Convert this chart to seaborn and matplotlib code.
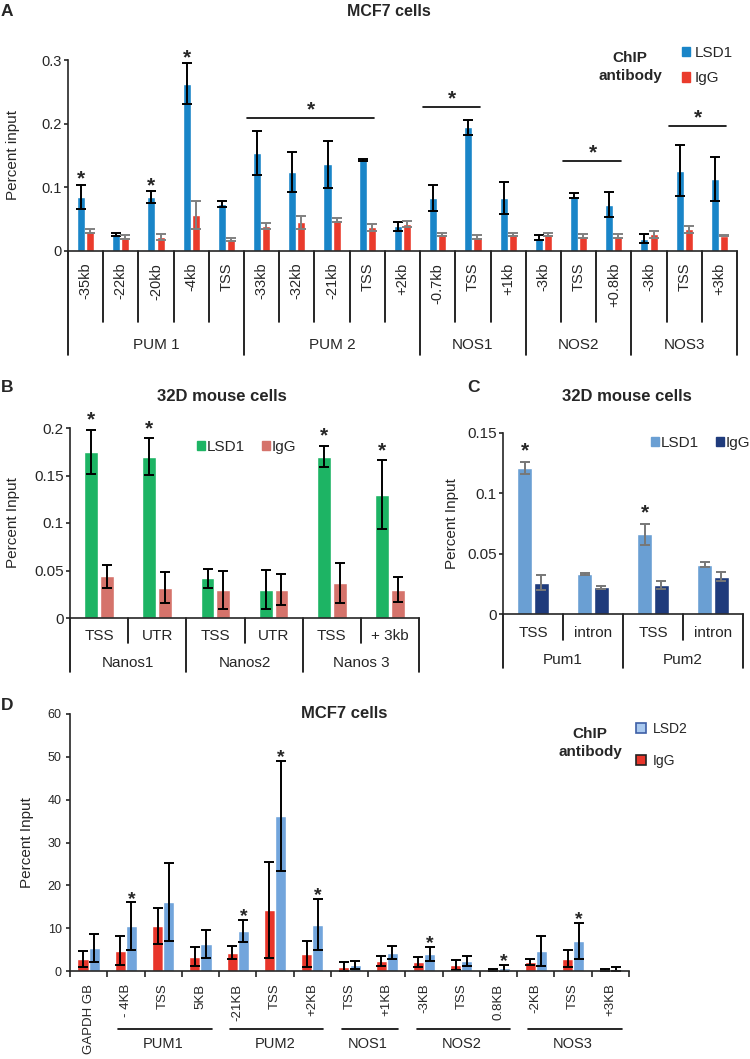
import numpy as np
import pandas as pd
import matplotlib
matplotlib.use("Agg")
import matplotlib.pyplot as plt
import matplotlib.patches as mpatches
from matplotlib.ticker import FuncFormatter
import seaborn as sns

sns.set_theme(style="ticks")
plt.rcParams['font.family'] = ['Liberation Sans', 'DejaVu Sans']
plt.rcParams['axes.linewidth'] = 1.2

# ---------------- data ----------------
# panel A, MCF7, LSD1 vs IgG
a_sites = ["-35kb", "-22kb", "-20kb", "-4kb", "TSS",
           "-33kb", "-32kb", "-21kb", "TSS", "+2kb",
           "-0.7kb", "TSS", "+1kb",
           "-3kb", "TSS", "+0.8kb",
           "-3kb", "TSS", "+3kb"]
a_genes = ["PUM 1", "PUM 2", "NOS1", "NOS2", "NOS3"]
a_gene_sizes = [5, 5, 3, 3, 3]
a_lsd1 = [0.085, 0.026, 0.085, 0.263, 0.074, 0.154, 0.124, 0.136, 0.143, 0.039,
          0.083, 0.194, 0.083, 0.021, 0.087, 0.073, 0.019, 0.126, 0.113]
a_lsd1_err = [0.019, 0.003, 0.009, 0.032, 0.005, 0.035, 0.031, 0.037, 0.002, 0.007,
              0.020, 0.012, 0.025, 0.004, 0.004, 0.019, 0.007, 0.040, 0.034]
a_igg = [0.031, 0.022, 0.022, 0.057, 0.018, 0.039, 0.045, 0.049, 0.037, 0.042,
         0.026, 0.022, 0.026, 0.026, 0.023, 0.023, 0.026, 0.034, 0.024]
a_igg_err = [0.003, 0.003, 0.005, 0.022, 0.003, 0.005, 0.010, 0.003, 0.006, 0.005,
             0.003, 0.003, 0.003, 0.003, 0.003, 0.003, 0.006, 0.005, 0.001]
a_stars = [0, 2, 3]
# (first site, last site, bracket height)
a_brackets = [(5, 8, 0.209), (10, 11, 0.226), (14, 15, 0.141), (17, 18, 0.196)]

# panel B, 32D mouse cells
b_sites = ["TSS", "UTR", "TSS", "UTR", "TSS", "+ 3kb"]
b_genes = ["Nanos1", "Nanos2", "Nanos 3"]
b_gene_sizes = [2, 2, 2]
b_lsd1 = [0.175, 0.170, 0.042, 0.030, 0.170, 0.130]
b_lsd1_err = [0.023, 0.019, 0.010, 0.021, 0.011, 0.036]
b_igg = [0.044, 0.032, 0.030, 0.030, 0.037, 0.030]
b_igg_err = [0.012, 0.016, 0.020, 0.016, 0.021, 0.013]
b_stars = [0, 1, 4, 5]

# panel C, 32D mouse cells
c_sites = ["TSS", "intron", "TSS", "intron"]
c_genes = ["Pum1", "Pum2"]
c_gene_sizes = [2, 2]
c_lsd1 = [0.121, 0.033, 0.066, 0.041]
c_lsd1_err = [0.005, 0.001, 0.009, 0.002]
c_igg = [0.026, 0.022, 0.024, 0.031]
c_igg_err = [0.006, 0.001, 0.003, 0.004]
c_stars = [0, 2]

# panel D, MCF7, LSD2 vs IgG
d_sites = ["GAPDH GB", "- 4KB", "TSS", "5KB", "-21KB", "TSS", "+2KB", "TSS", "+1KB",
           "-3KB", "TSS", "0.8KB", "-2KB", "TSS", "+3KB"]
d_genes = ["", "PUM1", "PUM2", "NOS1", "NOS2", "NOS3"]
d_gene_sizes = [1, 3, 3, 2, 3, 3]
d_igg = [2.8, 4.7, 10.4, 3.3, 4.3, 14.3, 4.0, 1.0, 2.4, 2.1, 1.4, 0.3, 2.1, 2.9, 0.25]
d_igg_err = [1.95, 3.4, 4.2, 2.2, 1.6, 11.2, 3.1, 1.0, 1.2, 1.2, 1.1, 0.2, 0.8, 1.9, 0.2]
d_lsd2 = [5.4, 10.4, 16.1, 6.3, 9.3, 36.2, 10.8, 1.4, 4.3, 4.0, 2.4, 0.6, 4.7, 7.0, 0.4]
d_lsd2_err = [3.3, 5.6, 9.2, 3.3, 2.6, 12.9, 6.0, 1.0, 1.5, 1.6, 1.2, 0.8, 3.5, 4.2, 0.5]
d_stars = [1, 4, 5, 6, 9, 11, 13]

W, H = 750, 1059
fig = plt.figure(figsize=(W / 100, H / 100), dpi=100)


def px_axes(x0, y0, x1, y1):
    # pixel box (left, top, right, bottom) -> axes
    return fig.add_axes([x0 / W, 1 - y1 / H, (x1 - x0) / W, (y1 - y0) / H])


def draw_bars(ax, vals, errs, names, colors, ecolors, width, gap):
    n = len(vals[0])
    df = pd.DataFrame({
        "pos": np.tile(np.arange(n), len(names)),
        "value": np.concatenate(vals),
        "antibody": np.repeat(names, n),
    })
    sns.barplot(data=df, x="pos", y="value", hue="antibody", hue_order=names,
                palette=colors, saturation=1, width=width, gap=gap,
                errorbar=None, legend=False, ax=ax)
    bars = list(ax.containers[:len(names)])
    tops = []
    for cont, err, ec in zip(bars, errs, ecolors):
        xs = np.array([b.get_x() + b.get_width() / 2 for b in cont])
        hs = np.array([b.get_height() for b in cont])
        ax.errorbar(xs, hs, yerr=err, fmt="none", ecolor=ec, elinewidth=1.4,
                    capsize=3.5, capthick=1.4)
        tops.append((xs, hs + np.array(err)))
    ax.set_xlim(-0.5, n - 0.5)
    ax.set_xlabel("")
    sns.despine(ax=ax)
    ax.yaxis.set_major_formatter(FuncFormatter(lambda v, p: "%g" % round(v, 3)))
    return tops


def stars(ax, xs, ys, idx, off, fs=15):
    for i in idx:
        ax.annotate("*", (xs[i], ys[i]), xytext=(0, off), textcoords="offset points",
                    ha="center", va="baseline", fontsize=fs, fontweight="bold",
                    annotation_clip=False)


def cat_frame(ax, sizes, names, sub_px, grp_px, name_px, fs):
    # separators under the category axis + gene names
    h = ax.get_position().height * H
    xt = ax.get_xaxis_transform()
    n = sum(sizes)
    edges = np.cumsum([0] + sizes) - 0.5
    for b in np.arange(n + 1) - 0.5:
        ln = grp_px if np.isclose(edges, b).any() else sub_px
        ax.plot([b, b], [0, -ln / h], transform=xt, clip_on=False, color="black", lw=1.2)
    for name, e0, e1 in zip(names, edges[:-1], edges[1:]):
        ax.text((e0 + e1) / 2, -name_px / h, name, transform=xt, ha="center",
                va="center", fontsize=fs)


def ylabel_at(ax, text, x_px, fs=11):
    pos = ax.get_position()
    ax.set_ylabel(text, fontsize=fs)
    ax.yaxis.set_label_coords((x_px / W - pos.x0) / pos.width, 0.5)
    ax.yaxis.label.set_va("center")


# ---------------- panel A ----------------
axA = px_axes(68, 60, 737, 251)
topsA = draw_bars(axA, [a_lsd1, a_igg], [a_lsd1_err, a_igg_err], ["LSD1", "IgG"],
                  ["#1985c8", "#ea3b2c"], ["black", "#808080"], 0.52, 0.12)
axA.set_ylim(0, 0.3)
axA.set_yticks([0, 0.1, 0.2, 0.3])
axA.tick_params(axis="y", length=3, width=1.2, pad=1.5, labelsize=10.5)
axA.set_xticks(range(len(a_sites)))
axA.set_xticklabels(a_sites, rotation=90, fontsize=10.5)
axA.tick_params(axis="x", length=0, pad=8.5)
cat_frame(axA, a_gene_sizes, a_genes, 71, 104, 94, 11)
ylabel_at(axA, "Percent input", 13)
stars(axA, topsA[0][0], topsA[0][1], a_stars, 0)
for i0, i1, y in a_brackets:
    axA.plot([i0 - 0.43, i1 + 0.2], [y, y], color="black", lw=1.2, clip_on=False)
    axA.annotate("*", ((i0 + i1) / 2 - 0.1, y), xytext=(0, 2), textcoords="offset points",
                 ha="center", va="baseline", fontsize=15, fontweight="bold",
                 annotation_clip=False)
fig.text(389 / W, 1 - 12 / H, "MCF7 cells", ha="center", va="center",
         fontsize=11.5, fontweight="bold")
fig.text(630 / W, 1 - 67 / H, "ChIP\nantibody", ha="center", va="center",
         fontsize=11, fontweight="bold", linespacing=1.3)
fig.legend([mpatches.Patch(color=c) for c in ["#1985c8", "#ea3b2c"]], ["LSD1", "IgG"],
           loc="upper left", bbox_to_anchor=(682 / W, 1 - 46 / H), frameon=False,
           handlelength=0.55, handleheight=0.55, handletextpad=0.3,
           labelspacing=0.75, fontsize=11, borderaxespad=0, borderpad=0)

# ---------------- panel B ----------------
axB = px_axes(70, 428, 419, 618)
topsB = draw_bars(axB, [b_lsd1, b_igg], [b_lsd1_err, b_igg_err], ["LSD1", "IgG"],
                  ["#1db464", "#d5736b"], ["black", "black"], 0.54, 0.12)
axB.set_ylim(0, 0.2)
axB.set_yticks([0, 0.05, 0.1, 0.15, 0.2])
axB.tick_params(axis="y", length=3, width=1.2, pad=1.5, labelsize=11)
axB.set_xticks(range(len(b_sites)))
axB.set_xticklabels(b_sites, fontsize=11)
axB.tick_params(axis="x", length=0, pad=8)
cat_frame(axB, b_gene_sizes, b_genes, 25, 54, 45, 11)
ylabel_at(axB, "Percent Input", 13)
stars(axB, topsB[0][0], topsB[0][1], b_stars, 3)
axB.legend([mpatches.Patch(color=c) for c in ["#1db464", "#d5736b"]], ["LSD1", "IgG"],
           loc="center left", bbox_to_anchor=(197 / W, 1 - 447 / H),
           bbox_transform=fig.transFigure, ncol=2, frameon=False,
           handlelength=0.5, handleheight=0.5, handletextpad=0.15,
           columnspacing=1.1, fontsize=11, borderaxespad=0, borderpad=0)
fig.text(222 / W, 1 - 397 / H, "32D mouse cells", ha="center", va="center",
         fontsize=12, fontweight="bold")

# ---------------- panel C ----------------
axC = px_axes(503, 433, 743, 614)
topsC = draw_bars(axC, [c_lsd1, c_igg], [c_lsd1_err, c_igg_err], ["LSD1", "IgG"],
                  ["#6a9fd3", "#1f3b7c"], ["#777777", "#777777"], 0.56, 0.1)
axC.set_ylim(0, 0.15)
axC.set_yticks([0, 0.05, 0.1, 0.15])
axC.tick_params(axis="y", length=3, width=1.2, pad=1.5, labelsize=11)
axC.set_xticks(range(len(c_sites)))
axC.set_xticklabels(c_sites, fontsize=11)
axC.tick_params(axis="x", length=0, pad=8.5)
cat_frame(axC, c_gene_sizes, c_genes, 26, 54, 46, 11)
ylabel_at(axC, "Percent Input", 452)
stars(axC, topsC[0][0], topsC[0][1], c_stars, 4)
axC.legend([mpatches.Patch(color=c) for c in ["#6a9fd3", "#1f3b7c"]], ["LSD1", "IgG"],
           loc="center left", bbox_to_anchor=(651 / W, 1 - 443 / H),
           bbox_transform=fig.transFigure, ncol=2, frameon=False,
           handlelength=0.5, handleheight=0.5, handletextpad=0.15,
           columnspacing=1.1, fontsize=11, borderaxespad=0, borderpad=0)
fig.text(627 / W, 1 - 397 / H, "32D mouse cells", ha="center", va="center",
         fontsize=12, fontweight="bold")

# ---------------- panel D ----------------
axD = px_axes(70, 714, 629, 971)
topsD = draw_bars(axD, [d_igg, d_lsd2], [d_igg_err, d_lsd2_err], ["IgG", "LSD2"],
                  ["#e8352a", "#72a5dc"], ["black", "black"], 0.6, 0.0)
axD.set_ylim(0, 60)
axD.set_yticks(range(0, 61, 10))
axD.tick_params(axis="y", length=3, width=1.2, pad=3, labelsize=9)
n_d = len(d_sites)
axD.set_xticks(range(n_d))
axD.set_xticklabels(d_sites, rotation=90, fontsize=9.5)
axD.set_xticks(np.arange(n_d + 1) - 0.5, minor=True)
axD.tick_params(axis="x", which="major", length=0, pad=9)
axD.tick_params(axis="x", which="minor", length=4, width=1.2)
ylabel_at(axD, "Percent Input", 27)
stars(axD, topsD[1][0], topsD[1][1], d_stars, -1, fs=14)
hD = axD.get_position().height * H
edgesD = np.cumsum([0] + d_gene_sizes) - 0.5
for name, e0, e1 in zip(d_genes, edgesD[:-1], edgesD[1:]):
    if not name:
        continue
    axD.plot([e0 + 0.3, e1 - 0.2], [-58 / hD, -58 / hD], transform=axD.get_xaxis_transform(),
             clip_on=False, color="black", lw=1.2)
    axD.text((e0 + e1) / 2, -73 / hD, name, transform=axD.get_xaxis_transform(),
             ha="center", va="center", fontsize=10.5)
fig.text(344 / W, 1 - 713 / H, "MCF7 cells", ha="center", va="center",
         fontsize=12, fontweight="bold")
fig.text(590 / W, 1 - 743 / H, "ChIP\nantibody", ha="center", va="center",
         fontsize=11, fontweight="bold", linespacing=1.3)
fig.legend([mpatches.Patch(facecolor="#a9c9ef", edgecolor="#3d5fa6", lw=1.2),
            mpatches.Patch(facecolor="#e8352a", edgecolor="#222222", lw=1.2)],
           ["LSD2", "IgG"], loc="upper left", bbox_to_anchor=(636 / W, 1 - 722 / H),
           frameon=False, handlelength=0.7, handleheight=0.7, handletextpad=0.5,
           labelspacing=1.3, fontsize=10, borderaxespad=0, borderpad=0)

# panel letters
for letter, x, y in [("A", 7, 11), ("B", 7, 388), ("C", 473, 388), ("D", 7, 705)]:
    fig.text(x / W, 1 - y / H, letter, ha="center", va="center", fontsize=12.5,
             fontweight="bold")

fig.savefig("out.png", dpi=100)
